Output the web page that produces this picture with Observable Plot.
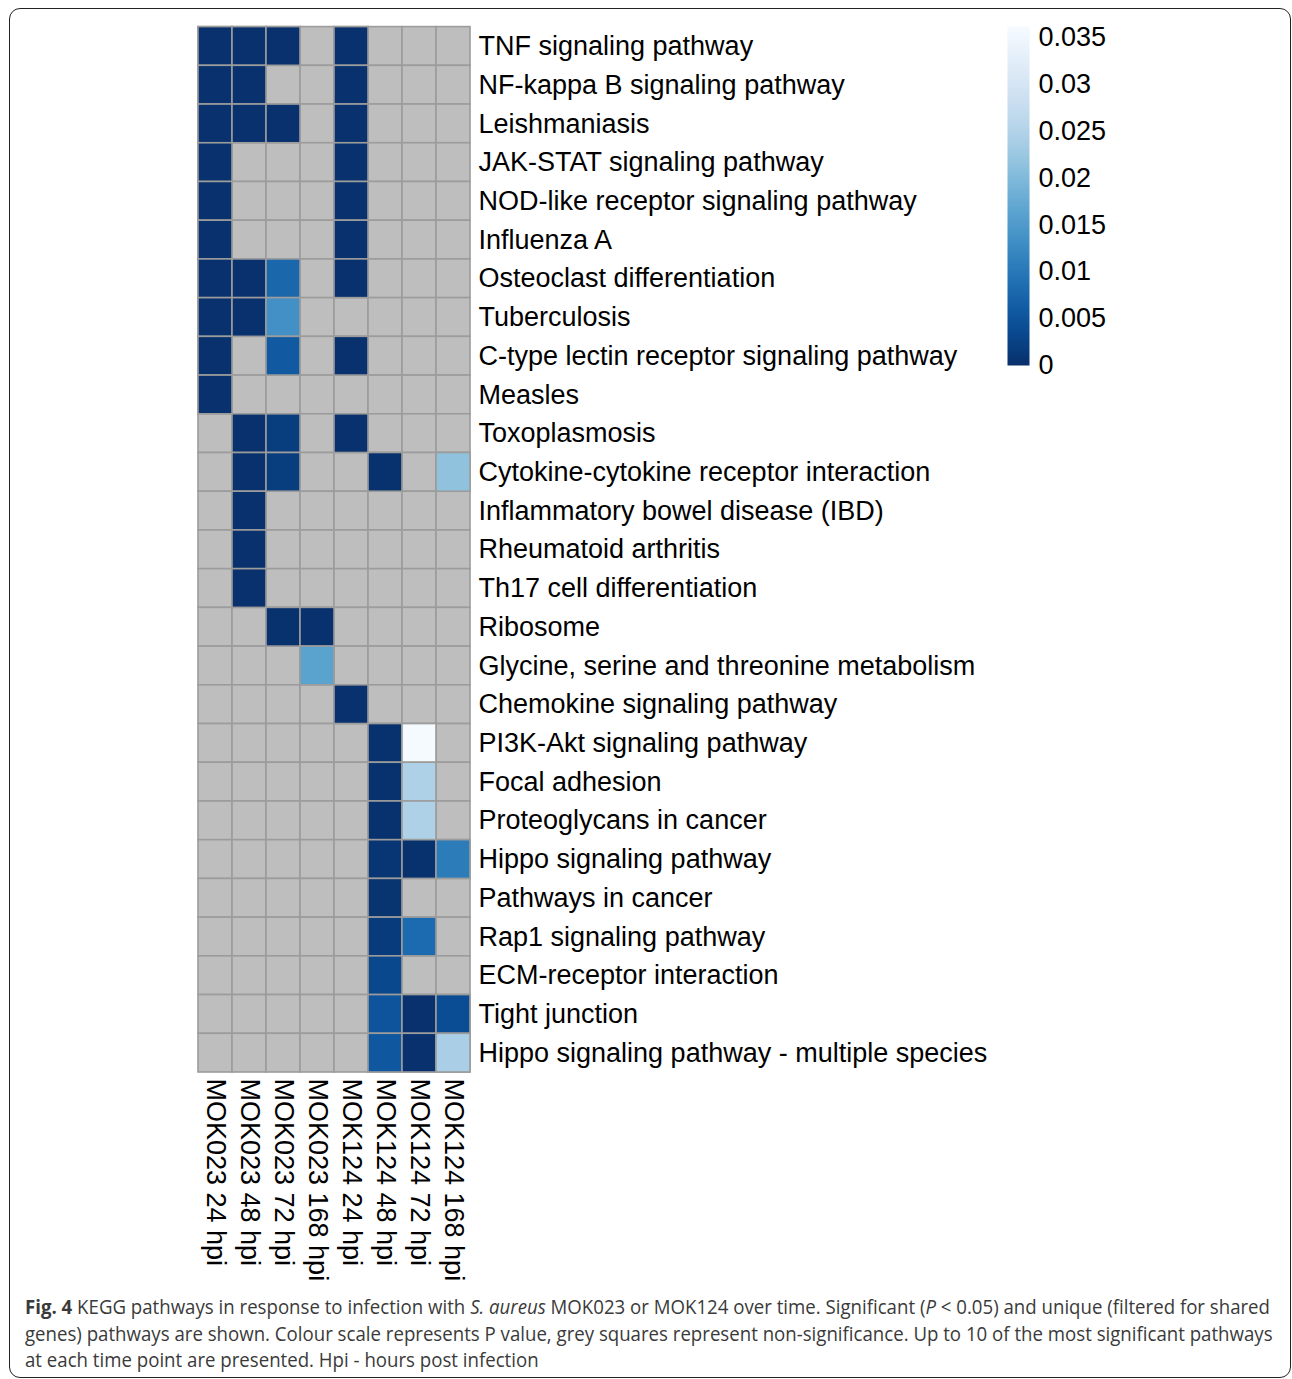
<!DOCTYPE html>
<html>
<head>
<meta charset="utf-8">
<script src="https://cdn.jsdelivr.net/npm/d3@7"></script>
<script src="https://cdn.jsdelivr.net/npm/@observablehq/plot@0.6"></script>
<style>
  body { margin: 0; background: #fff; }
  #wrap { position: relative; width: 1292px; height: 1379px; overflow: hidden; background: #fff; }
  #frame { position: absolute; left: 9px; top: 8px; width: 1282px; height: 1370px; box-sizing: border-box;
           border: 1.6px solid #222; border-radius: 11px; }
  #main { position: absolute; left: 0; top: 0; }
  #bar { position: absolute; left: 1007px; top: 0; }
  #main svg text, #bar svg text { font-family: "Liberation Sans", Arial, Helvetica, sans-serif !important; }
  #caption { position: absolute; left: 25px; top: 1294px; font-family: "Open Sans", sans-serif; font-size: 20px;
             line-height: 26.5px; color: #3a3a3a; white-space: nowrap; transform-origin: 0 0; }
  #caption div { white-space: nowrap; }
  #caption span { display: inline-block; }
</style>
</head>
<body>
<div id="wrap">
  <div id="frame"></div>
  <div id="main"></div>
  <div id="bar"></div>
  <div id="caption">
    <div><span id="line1"><b>Fig. 4</b> KEGG pathways in response to infection with <i>S. aureus</i> MOK023 or MOK124 over time. Significant (<i>P</i> &lt; 0.05) and unique (filtered for shared</span></div>
    <div><span>genes) pathways are shown. Colour scale represents P value, grey squares represent non-significance. Up to 10 of the most significant pathways</span></div>
    <div><span>at each time point are presented. Hpi - hours post infection</span></div>
  </div>
</div>
<script>
// ---- Data ----
const pathways = [
  "TNF signaling pathway",
  "NF-kappa B signaling pathway",
  "Leishmaniasis",
  "JAK-STAT signaling pathway",
  "NOD-like receptor signaling pathway",
  "Influenza A",
  "Osteoclast differentiation",
  "Tuberculosis",
  "C-type lectin receptor signaling pathway",
  "Measles",
  "Toxoplasmosis",
  "Cytokine-cytokine receptor interaction",
  "Inflammatory bowel disease (IBD)",
  "Rheumatoid arthritis",
  "Th17 cell differentiation",
  "Ribosome",
  "Glycine, serine and threonine metabolism",
  "Chemokine signaling pathway",
  "PI3K-Akt signaling pathway",
  "Focal adhesion",
  "Proteoglycans in cancer",
  "Hippo signaling pathway",
  "Pathways in cancer",
  "Rap1 signaling pathway",
  "ECM-receptor interaction",
  "Tight junction",
  "Hippo signaling pathway - multiple species"
];

const samples = [
  "MOK023 24 hpi", "MOK023 48 hpi", "MOK023 72 hpi", "MOK023 168 hpi",
  "MOK124 24 hpi", "MOK124 48 hpi", "MOK124 72 hpi", "MOK124 168 hpi"
];

// P values per sample (one entry per pathway, null = not significant)
const _ = null;
const mok023_24h  = [0.0002,0.0002,0.0002,0.0002,0.0002,0.0002,0.0002,0.0002,0.0002,0.0002, _,_,_,_,_,_,_,_,_,_,_,_,_,_,_,_,_];
const mok023_48h  = [0.0002,0.0002,0.0002,_,_,_,0.0002,0.0002,_,_, 0.0002,0.0002,0.0002,0.0002,0.0002,_,_,_,_,_,_,_,_,_,_,_,_];
const mok023_72h  = [0.0002,_,0.0002,_,_,_,0.0076,0.0134,0.0058,_, 0.0018,0.0018,_,_,_,0.0003,_,_,_,_,_,_,_,_,_,_,_];
const mok023_168h = [_,_,_,_,_,_,_,_,_,_, _,_,_,_,_,0.0002,0.0163,_,_,_,_,_,_,_,_,_,_];
const mok124_24h  = [0.0002,0.0002,0.0002,0.0002,0.0002,0.0002,0.0002,_,0.0002,_, 0.0002,_,_,_,_,_,_,0.0002,_,_,_,_,_,_,_,_,_];
const mok124_48h  = [_,_,_,_,_,_,_,_,_,_, _,0.0003,_,_,_,_,_,_,0.0003,0.0003,0.0003,0.0008,0.0005,0.0015,0.0033,0.0050,0.0054];
const mok124_72h  = [_,_,_,_,_,_,_,_,_,_, _,_,_,_,_,_,_,_,0.0358,0.0246,0.0246,0.0003,_,0.0080,_,0.0002,0.0002];
const mok124_168h = [_,_,_,_,_,_,_,_,_,_, _,0.0214,_,_,_,_,_,_,_,_,_,0.0105,_,_,_,0.0040,0.0239];

const series = [mok023_24h, mok023_48h, mok023_72h, mok023_168h, mok124_24h, mok124_48h, mok124_72h, mok124_168h];

const colorMax = 0.0362;
const colorTicks = [0, 0.005, 0.01, 0.015, 0.02, 0.025, 0.03, 0.035];

// ---- Build table ----
const cells = [];
pathways.forEach((p, i) => samples.forEach((s, j) => cells.push({pathway: p, sample: s, p: series[j][i]})));

const colorScale = {type: "linear", domain: [0, colorMax], scheme: "blues", reverse: true};
const font = "Liberation Sans, Arial, Helvetica, sans-serif";

const main = Plot.plot({
  width: 1000,
  height: 1290,
  marginLeft: 198,
  marginRight: 530,
  marginTop: 26.6,
  marginBottom: 1290 - 1072,
  style: {fontFamily: font, fontSize: "27px", color: "#000", background: "transparent", overflow: "visible"},
  x: {domain: samples, padding: 0, round: false, axis: null},
  y: {domain: pathways, padding: 0, round: false, axis: null},
  color: colorScale,
  marks: [
    Plot.cell(cells, {x: "sample", y: "pathway", fill: "#bebebe", stroke: "#9c9c9c", strokeWidth: 1.6, inset: 0}),
    Plot.cell(cells.filter(d => d.p != null), {x: "sample", y: "pathway", fill: "p", stroke: "#9c9c9c", strokeWidth: 1.6, inset: 0}),
    Plot.axisY({anchor: "right", tickSize: 0, tickPadding: 8, fontSize: 27, label: null}),
    Plot.axisX({anchor: "bottom", tickSize: 0, tickPadding: 6, tickRotate: 90, fontSize: 27, label: null})
  ]
});
document.getElementById("main").appendChild(main);

const bar = Plot.plot({
  width: 130,
  height: 380,
  marginLeft: 0,
  marginRight: 108,
  marginTop: 26,
  marginBottom: 15,
  style: {fontFamily: font, fontSize: "27px", color: "#000", background: "transparent", overflow: "visible"},
  x: {domain: [0, 1], axis: null},
  y: {domain: [0, colorMax], axis: null},
  color: colorScale,
  marks: [
    Plot.raster({x1: 0, x2: 1, y1: 0, y2: colorMax, width: 1, height: 300, fill: (x, y) => y, imageRendering: "auto"}),
    Plot.axisY({anchor: "right", ticks: colorTicks, tickFormat: d => String(d), tickSize: 0, tickPadding: 9, fontSize: 27, label: null})
  ]
});
document.getElementById("bar").appendChild(bar);

// Fit caption width (condensed look of the original font)
const cap = document.getElementById("caption");
const w1 = document.getElementById("line1").getBoundingClientRect().width;
const sx = 1245 / w1;
cap.style.transform = `scaleX(${sx})`;
</script>
</body>
</html>
